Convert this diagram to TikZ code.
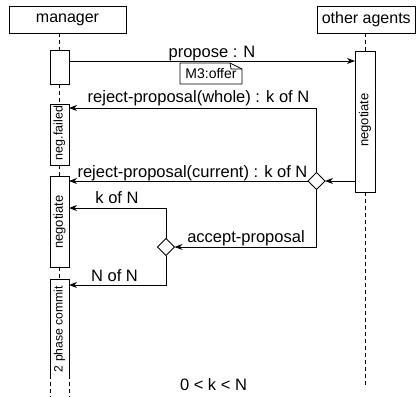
\documentclass[tikz,border=0pt]{standalone}
\usepackage{fontspec}
\setmainfont{Liberation Sans}
\usetikzlibrary{arrows.meta,shapes.geometric}
\begin{document}
\begin{tikzpicture}[x=1pt,y=-1pt,
  every node/.style={inner sep=0pt, outer sep=0pt},
  head/.style={draw, line width=0.9pt, minimum height=27pt, font=\fontsize{16}{19}\selectfont},
  act/.style={draw, fill=white, line width=0.9pt, minimum width=19pt},
  life/.style={dash pattern=on 4pt off 3pt, line width=0.9pt},
  msg/.style={line width=0.9pt, -{Stealth[length=8pt,width=6pt]}},
  lbl/.style={anchor=base, font=\fontsize{16.5}{19}\selectfont},
  vtxt/.style={rotate=90, font=\fontsize{12.5}{15}\selectfont},
  dia/.style={draw, diamond, fill=white, minimum size=17pt, line width=0.9pt}]
\useasboundingbox (0,0) rectangle (416,397);

% heads
\node[head, minimum width=117pt] (mh) at (67.5,19.5) {manager};
\node[head, minimum width=98pt] (oh) at (366.25,19.5) {other agents};

% manager activations
\node[act, minimum height=34pt] (a1) at (59.5,67) {};
\node[act, minimum height=61pt] (a2) at (59.5,134.5) {};
\node[act, minimum height=91pt] (a3) at (59.5,221.5) {};
\node[minimum width=19pt, minimum height=96pt] (a4) at (59.5,327) {};
\draw[line width=0.9pt] (a4.south west) -- (a4.north west) -- (a4.north east) -- (a4.south east);
\coordinate (a4l) at (a4.south west |- {0,397});
\coordinate (a4r) at (a4.south east |- {0,397});
\draw[life] (a4.south west) -- (a4l);
\draw[life] (a4.south east) -- (a4r);

\node[vtxt] (t2) at (59.5,133) {neg.failed};
\node[vtxt, font=\fontsize{13}{15}\selectfont] (t3) at (59.5,222) {negotiate};
\node[vtxt, font=\fontsize{12.2}{15}\selectfont] (t4) at (59.5,329) {2 phase commit};

% other agents activation
\node[act, minimum width=20pt, minimum height=141pt] (o1) at (365,121.5) {};
\node[vtxt, font=\fontsize{13}{15}\selectfont] (to) at (365,120) {negotiate};
\coordinate (oend) at (o1.south |- {0,387});

% lifelines
\draw[life] (a1.north |- mh.south) -- (a1.north);
\draw[life] (a1.south) -- (a2.north);
\draw[life] (a2.south) -- (a3.north);
\draw[life] (a3.south) -- (a4.north);
\draw[life] (o1.north |- oh.south) -- (o1.north);
\draw[life] (o1.south) -- (oend);

% propose
\draw[msg] (a1.east |- {0,61}) -- (o1.west |- {0,61});
\node[lbl] (lp) at (212,57) {propose : N};

% note
\node[minimum width=62pt, minimum height=21pt, font=\fontsize{14}{16}\selectfont] (note) at (211,73.5) {M3:offer};
\draw[line width=0.8pt] (note.north west) -- ([xshift=-12pt]note.north east) -- ([yshift=-6pt]note.north east) -- (note.south east) -- (note.south west) -- cycle;
\draw[line width=0.8pt] ([xshift=-12pt]note.north east) -- ([xshift=-11pt,yshift=-6pt]note.north east) -- ([yshift=-6pt]note.north east);

% diamonds
\node[dia] (d1) at (316.5,181) {};
\node[dia] (d2) at (166,247) {};

% messages
\draw[msg] (d1.north) |- (a2.east |- {0,108});
\node[lbl] (lw) at (198.5,102) {reject-proposal(whole) : k of N};

\draw[msg] (o1.west |- d1.east) -- (d1.east);
\draw[msg] (d1.west) -- (a3.east |- d1.west);
\node[lbl] (lc) at (192.5,177) {reject-proposal(current) : k of N};

\draw[msg] (d1.south) |- (d2.east);
\node[lbl] (la) at (246,242) {accept-proposal};

\draw[msg] (d2.north) |- (a3.east |- {0,208});
\node[lbl] (lk) at (117,203) {k of N};

\draw[msg] (d2.south) |- (a4.east |- {0,285});
\node[lbl] (ln) at (114.5,281) {N of N};

\node[lbl] (lz) at (213.5,390) {0 < k < N};
\end{tikzpicture}
\end{document}
